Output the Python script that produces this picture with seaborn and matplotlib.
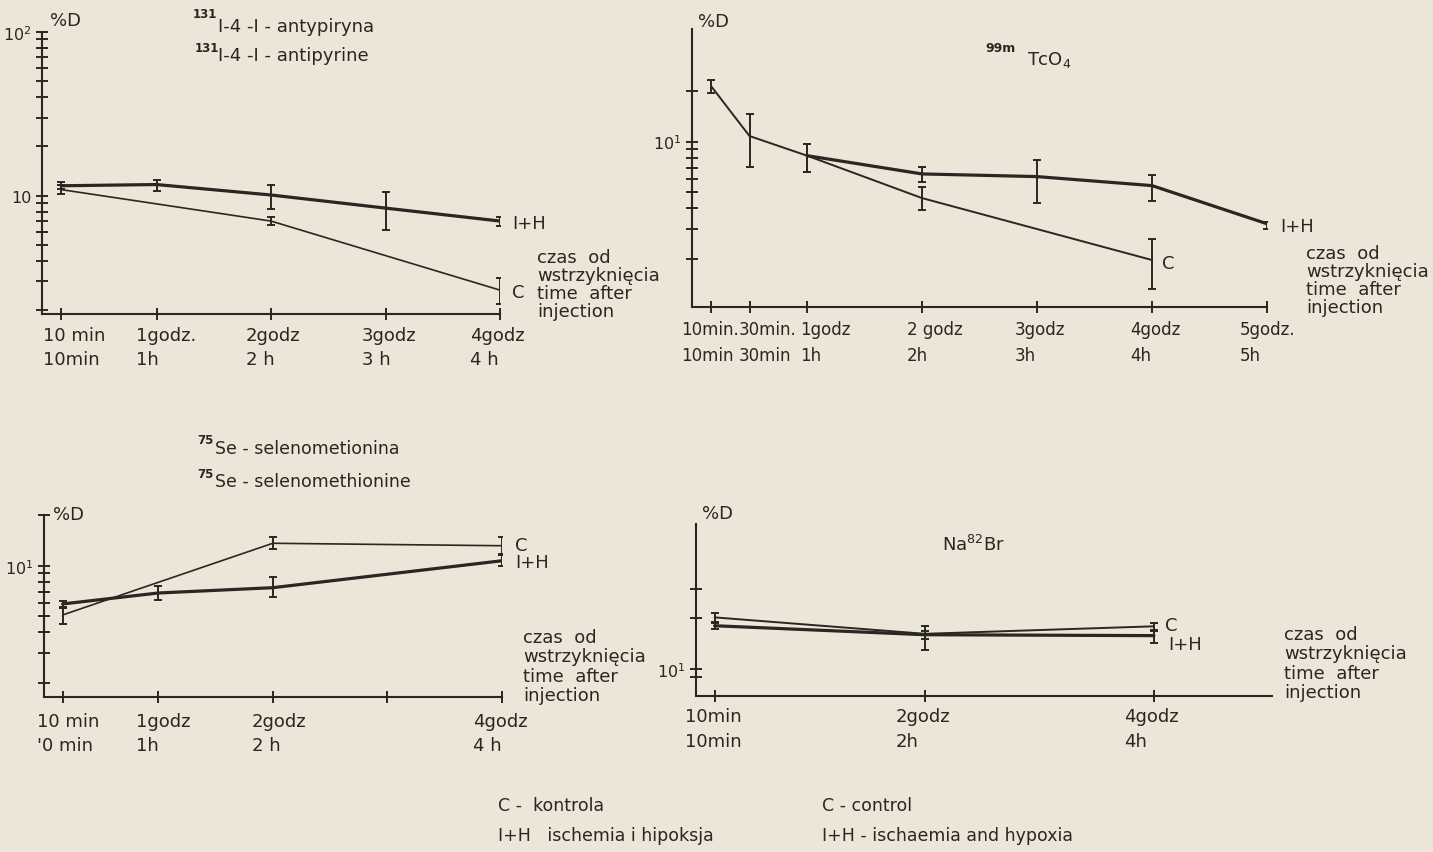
import numpy as np
import matplotlib
matplotlib.use('Agg')
import matplotlib.pyplot as plt
from matplotlib.ticker import NullFormatter
import seaborn as sns

sns.set_theme(style='ticks')
plt.rcParams['font.family'] = ['DejaVu Sans']
plt.rcParams['mathtext.fontset'] = 'dejavusans'

PAPER = '#ebe6d8'
INK = '#2a2622'
W, H = 1433, 853

T10 = 1 / 6  # 10 min in hours

# ---- 131I-4-I-antipyrine ----
anti_ticks = [T10, 1, 2, 3, 4]
anti_tick_labels = ['10 min\n10min', '1godz.\n1h', '2godz\n2 h', '3godz\n3 h', '4godz\n4 h']
anti_t_ih = [T10, 1, 2, 3, 4]
anti_ih = [11.5, 11.7, 10.1, 8.4, 7.0]
anti_ih_lo = [11.0, 10.7, 8.3, 6.2, 6.5]
anti_ih_hi = [12.1, 12.5, 11.7, 10.5, 7.4]
anti_t_c = [T10, 2, 4]
anti_c = [10.9, 7.0, 2.65]
anti_c_lo = [10.2, 6.6, 2.17]
anti_c_hi = [11.6, 7.4, 3.16]

# ---- 99mTcO4 ----
tc_ticks = [T10, 0.5, 1, 2, 3, 4, 5]
tc_tick_labels = ['10min.\n10min', '30min.\n30min', '1godz\n1h', '2 godz\n2h',
                  '3godz\n3h', '4godz\n4h', '5godz.\n5h']
tc_t_ih = [1, 2, 3, 4, 5]
tc_ih = [8.25, 6.42, 6.19, 5.47, 3.24]
tc_ih_lo = [6.63, 5.73, 4.29, 4.45, 3.0]
tc_ih_hi = [9.68, 7.09, 7.81, 6.33, 3.34]
tc_t_c = [T10, 0.5, 1, 2, 4]
tc_c = [21.4, 10.8, 8.25, 4.61, 1.97]
tc_c_lo = [19.5, 7.03, 6.63, 3.93, 1.32]
tc_c_hi = [23.4, 14.6, 9.68, 5.34, 2.63]

# ---- 75Se-selenomethionine ----
se_ticks = [T10, 1, 2, 3, 4]
se_tick_labels = ['10 min\n\'0 min', '1godz\n1h', '2godz\n2 h', '', '4godz\n4 h']
se_t_ih = [T10, 1, 2, 4]
se_ih = [5.91, 6.87, 7.39, 10.7]
se_ih_lo = [5.65, 6.27, 6.47, 10.0]
se_ih_hi = [6.19, 7.6, 8.52, 11.6]
se_t_c = [T10, 2, 4]
se_c = [5.08, 13.6, 13.15]
se_c_lo = [4.49, 12.57, 11.7]
se_c_hi = [5.57, 14.75, 14.75]

# ---- Na82Br ----
br_ticks = [T10, 2, 4]
br_tick_labels = ['10min\n10min', '2godz\n2h', '4godz\n4h']
br_t_ih = [T10, 2, 4]
br_ih = [18.1, 16.0, 15.8]
br_ih_lo = [17.3, 15.1, 14.3]
br_ih_hi = [18.8, 16.9, 16.9]
br_t_c = [T10, 2, 4]
br_c = [20.3, 16.2, 17.96]
br_c_lo = [19.15, 12.9, 17.15]
br_c_hi = [21.6, 18.1, 18.8]

TIME_TEXT = 'czas  od\nwstrzyknięcia\ntime  after\ninjection'


def px_axes(fig, left, top, right, bottom):
    return fig.add_axes([left / W, 1 - bottom / H, (right - left) / W, (bottom - top) / H])


def ftext(fig, x, y, s, **kw):
    kw.setdefault('fontsize', 13)
    kw.setdefault('va', 'center')
    kw.setdefault('ha', 'left')
    fig.text(x / W, 1 - y / H, s, color=INK, **kw)


def setup(ax, xlim, ylim, major, major_labels, minor, ticks):
    ax.set_facecolor('none')
    ax.set_yscale('log')
    ax.set_xlim(*xlim)
    ax.set_ylim(*ylim)
    ax.set_yticks(major, major_labels)
    ax.set_yticks(minor, minor=True)
    ax.yaxis.set_minor_formatter(NullFormatter())
    ax.set_xticks(ticks)
    ax.set_xticks([], minor=True)
    ax.tick_params(axis='x', labelbottom=False)
    for s in ['top', 'right']:
        ax.spines[s].set_visible(False)
    for s in ['left', 'bottom']:
        ax.spines[s].set_linewidth(1.5)
        ax.spines[s].set_color(INK)
    ax.tick_params(axis='both', which='both', direction='inout', length=9,
                   width=1.4, color=INK)
    ax.tick_params(axis='y', labelsize=11.5, labelcolor=INK, pad=3)
    ax.set_xlabel('')
    ax.set_ylabel('')


def time_labels(ax, ticks, labels, shifts, drop, size=13, spacing=1.4):
    for t, lab, dx in zip(ticks, labels, shifts):
        if not lab:
            continue
        ax.annotate(lab, xy=(t, 0), xycoords=('data', 'axes fraction'),
                    xytext=(dx, -drop), textcoords='offset pixels',
                    ha='left', va='top', fontsize=size, color=INK,
                    linespacing=spacing, annotation_clip=False)


def series(ax, t, v, lo, hi, lw):
    v = np.asarray(v, dtype=float)
    sns.lineplot(x=t, y=v, ax=ax, color=INK, linewidth=lw, sort=False)
    ax.errorbar(t, v, yerr=[v - np.asarray(lo), np.asarray(hi) - v], fmt='none',
                ecolor=INK, elinewidth=1.4, capsize=3, capthick=1.4, zorder=3)


fig = plt.figure(figsize=(W / 100, H / 100), dpi=100, facecolor=PAPER)

# panel 1: antipyrine
ax1 = px_axes(fig, 42, 33, 500, 315)
setup(ax1, (0, 4), (1.894, 100), [10, 100], ['10', '$10^2$'],
      list(range(2, 10)) + list(range(20, 100, 10)), anti_ticks)
series(ax1, anti_t_c, anti_c, anti_c_lo, anti_c_hi, 1.2)
series(ax1, anti_t_ih, anti_ih, anti_ih_lo, anti_ih_hi, 2.3)
time_labels(ax1, anti_ticks, anti_tick_labels, [-18, -20, -25, -24, -30], 12)
ftext(fig, 50, 21, '%D')
ftext(fig, 193, 15, '131', fontsize=8.5, fontweight='bold')
ftext(fig, 218, 27, 'I-4 -I - antypiryna')
ftext(fig, 195, 49, '131', fontsize=8.5, fontweight='bold')
ftext(fig, 218, 56, 'I-4 -I - antipyrine')
ftext(fig, 512, 224, 'I+H')
ftext(fig, 512, 293, 'C')
ftext(fig, 537, 285, TIME_TEXT, linespacing=1.0)

# panel 2: TcO4
ax2 = px_axes(fig, 692, 30, 1267, 308.3)
setup(ax2, (0, 5), (1.03, 46.9), [10], ['$10^1$'],
      list(range(2, 10)) + [20], tc_ticks)
series(ax2, tc_t_c, tc_c, tc_c_lo, tc_c_hi, 1.4)
series(ax2, tc_t_ih, tc_ih, tc_ih_lo, tc_ih_hi, 2.3)
time_labels(ax2, tc_ticks, tc_tick_labels, [-30, -11, -7, -15, -22, -22, -27], 13,
            size=12, spacing=1.55)
ftext(fig, 698, 22, '%D')
ftext(fig, 985, 48, '99m', fontsize=9, fontweight='bold')
ftext(fig, 1027, 60, 'TcO$_4$')
ftext(fig, 1280, 227, 'I+H')
ftext(fig, 1162, 264, 'C')
ftext(fig, 1306, 281, TIME_TEXT, linespacing=1.0)

# panel 3: selenomethionine
ax3 = px_axes(fig, 43.5, 516.2, 502, 698.3)
setup(ax3, (0, 4), (1.64, 20), [10], ['$10^1$'],
      list(range(2, 10)) + [20], se_ticks)
series(ax3, se_t_c, se_c, se_c_lo, se_c_hi, 1.2)
series(ax3, se_t_ih, se_ih, se_ih_lo, se_ih_hi, 2.3)
time_labels(ax3, se_ticks, se_tick_labels, [-26, -22, -21, 0, -29], 15)
ftext(fig, 53, 515, '%D')
ftext(fig, 197, 441, '75', fontsize=8.5, fontweight='bold')
ftext(fig, 215, 449, 'Se - selenometionina', fontsize=12.5)
ftext(fig, 197, 475, '75', fontsize=8.5, fontweight='bold')
ftext(fig, 215, 482, 'Se - selenomethionine', fontsize=12.5)
ftext(fig, 515, 546, 'C')
ftext(fig, 515, 563, 'I+H')
ftext(fig, 523, 667, TIME_TEXT, linespacing=1.1)

# panel 4: Na82Br
ax4 = px_axes(fig, 695.5, 525, 1272, 696.7)
setup(ax4, (0, 5.03), (6.93, 73.1), [10], ['$10^1$'], [9, 20, 30], br_ticks)
series(ax4, br_t_c, br_c, br_c_lo, br_c_hi, 1.4)
series(ax4, br_t_ih, br_ih, br_ih_lo, br_ih_hi, 2.3)
time_labels(ax4, br_ticks, br_tick_labels, [-30, -29, -30], 11, spacing=1.55)
ftext(fig, 702, 514, '%D')
ftext(fig, 942, 545, 'Na$^{82}$Br')
ftext(fig, 1165, 626, 'C')
ftext(fig, 1168, 645, 'I+H')
ftext(fig, 1284, 664, TIME_TEXT, linespacing=1.1)

# legend text at the bottom
ftext(fig, 498, 806, 'C -  kontrola', fontsize=12.5)
ftext(fig, 498, 836, 'I+H   ischemia i hipoksja', fontsize=12.5)
ftext(fig, 822, 806, 'C - control', fontsize=12.5)
ftext(fig, 822, 836, 'I+H - ischaemia and hypoxia', fontsize=12.5)

fig.savefig('out.png', dpi=100, facecolor=PAPER)
